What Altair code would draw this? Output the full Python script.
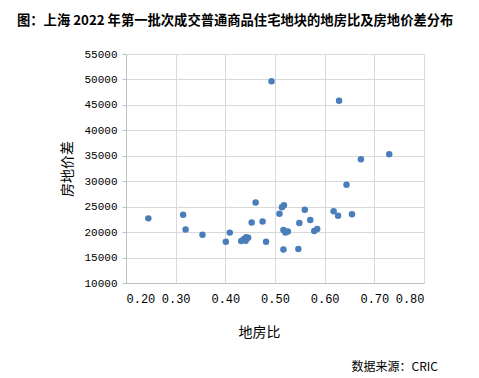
import altair as alt
import pandas as pd

land_ratio = [0.245, 0.315, 0.320, 0.354, 0.401, 0.409, 0.432, 0.437, 0.441, 0.442,
              0.446, 0.453, 0.461, 0.475, 0.482, 0.493, 0.509, 0.514, 0.518, 0.517,
              0.521, 0.526, 0.517, 0.547, 0.549, 0.560, 0.571, 0.579, 0.585, 0.618,
              0.627, 0.629, 0.644, 0.655, 0.673, 0.730]
price_gap = [22700, 23400, 20500, 19500, 18100, 19900, 18250, 18600, 18300, 19000,
             18900, 21900, 25800, 22100, 18100, 49650, 23600, 24900, 25300, 20400,
             19900, 20100, 16600, 16700, 21800, 24400, 22400, 20200, 20600, 24100,
             23200, 45800, 29300, 23500, 34300, 35300]

x_ticks = [0.2, 0.3, 0.4, 0.5, 0.6, 0.7, 0.8]
y_ticks = [10000, 15000, 20000, 25000, 30000, 35000, 40000, 45000, 50000, 55000]

title_text = "图：上海 2022 年第一批次成交普通商品住宅地块的地房比及房地价差分布"
source_text = "数据来源：CRIC"

df = pd.DataFrame({"地房比": land_ratio, "房地价差": price_gap})

W, H = 298, 229
CJK = "Noto Sans CJK SC"
MONO = "Liberation Mono"

points = alt.Chart(df).mark_circle(size=42, color="#4a7ebb", opacity=1).encode(
    x=alt.X("地房比:Q",
            scale=alt.Scale(domain=[0.2, 0.8], nice=False, zero=False),
            axis=alt.Axis(values=x_ticks, format=".2f", title="地房比",
                          labelFont=MONO, labelFontSize=12, labelColor="#000",
                          labelPadding=10, ticks=False,
                          domainColor="#bfbfbf", gridColor="#d9d9d9",
                          titleFont=CJK, titleFontSize=14, titleFontWeight="normal",
                          titleColor="#000", titleX=133, titleY=49,
                          titleAlign="center", titleBaseline="middle")),
    y=alt.Y("房地价差:Q",
            scale=alt.Scale(domain=[10000, 55000], nice=False, zero=False),
            axis=alt.Axis(values=y_ticks, format="d", title="房地价差",
                          labelFont=MONO, labelFontSize=11, labelColor="#000",
                          labelPadding=5, tickSize=4, tickColor="#bfbfbf",
                          domainColor="#bfbfbf", gridColor="#d9d9d9",
                          titleFont=CJK, titleFontSize=14, titleFontWeight="normal",
                          titleColor="#000", titleX=-59, titleY=114.5,
                          titleAlign="center", titleBaseline="middle")),
)

note = alt.Chart(pd.DataFrame({"t": [source_text]})).mark_text(
    font=CJK, fontSize=12, align="right", baseline="middle", color="#000"
).encode(text="t:N", x=alt.value(312), y=alt.value(313))

chart = alt.layer(points, note).properties(
    width=W, height=H,
    title=alt.TitleParams(title_text, anchor="start", frame="group", dx=-109,
                          font=CJK, fontSize=13.3, fontWeight="bold", color="#000",
                          offset=21),
    autosize=alt.AutoSizeParams(type="none"),
    padding={"left": 118, "top": 46, "right": 47, "bottom": 91},
).configure_view(stroke=None)

chart.save("out.html", embed_options={"renderer": "svg", "actions": False})
